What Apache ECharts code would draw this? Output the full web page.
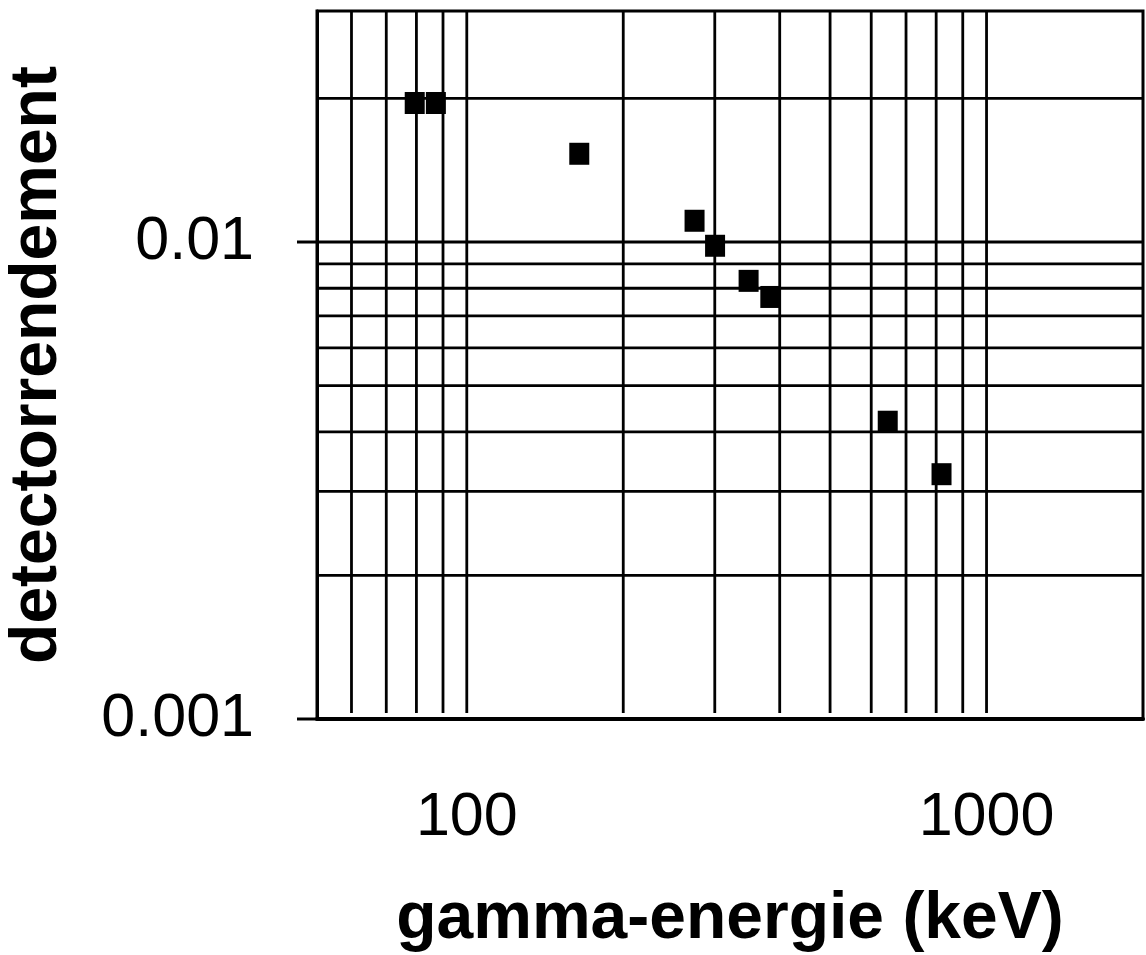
<!DOCTYPE html>
<html>
<head>
<meta charset="utf-8">
<script src="https://cdn.jsdelivr.net/npm/echarts@6/dist/echarts.min.js"></script>
<style>
  html, body { margin: 0; padding: 0; background: #fff; }
  #chart { width: 1146px; height: 955px; }
</style>
</head>
<body>
<div id="chart"></div>
<script>
// ---- data ----
const energies = [79.4, 87.2, 164.6, 274.3, 300.4, 348.5, 383.7, 645.5, 819.2];
const efficiencies = [0.01956, 0.01956, 0.01531, 0.01108, 0.00982, 0.00829, 0.00767, 0.0042, 0.00326];
const xTickLabels = [100, 1000];
const yTickLabels = ['0.001', '0.01'];
const xGridValues = [60, 70, 80, 90, 100, 200, 300, 400, 500, 600, 700, 800, 900, 1000];
const yGridValues = [0.002, 0.003, 0.004, 0.005, 0.006, 0.007, 0.008, 0.009, 0.01, 0.02];
const xRange = [51.5, 2000];
const yRange = [0.001, 0.0305];
const xTitle = 'gamma-energie (keV)';
const yTitle = 'detectorrendement';

const FONT = '"Liberation Sans", Arial, sans-serif';
const near = (a, b) => Math.abs(Math.log10(a) - Math.log10(b)) < 1e-6;
const GRID_W = 2.8;

const chart = echarts.init(document.getElementById('chart'), null, { renderer: 'canvas' });
chart.setOption({
  animation: false,
  backgroundColor: '#fff',
  grid: {
    left: 317, right: 3, top: 11, bottom: 236,
    containLabel: false, outerBoundsMode: 'none',
    show: true, borderColor: '#000', borderWidth: 3, backgroundColor: 'transparent'
  },
  xAxis: {
    type: 'log', logBase: 10, min: xRange[0], max: xRange[1],
    name: xTitle, nameLocation: 'middle', nameGap: 168,
    nameTextStyle: { fontFamily: FONT, fontSize: 66, fontWeight: 'bold', color: '#000' },
    axisLine: { show: true, lineStyle: { color: '#000', width: 4 } },
    axisTick: { show: false },
    splitLine: { show: false },
    axisLabel: {
      margin: 69, fontFamily: FONT, fontSize: 61, color: '#000',
      formatter: v => { const m = xTickLabels.find(t => near(t, v)); return m ? String(m) : ''; }
    }
  },
  yAxis: {
    type: 'log', logBase: 10, min: yRange[0], max: yRange[1],
    name: yTitle, nameLocation: 'middle', nameGap: 246, nameRotate: 90,
    nameTextStyle: { fontFamily: FONT, fontSize: 66, fontWeight: 'bold', color: '#000' },
    axisLine: { show: true, lineStyle: { color: '#000', width: 3 } },
    axisTick: { show: false },
    splitLine: { show: false },
    axisLabel: {
      margin: 63, fontFamily: FONT, fontSize: 61, color: '#000', showMinLabel: true,
      formatter: v => { const m = yTickLabels.find(t => near(parseFloat(t), v)); return m || ''; }
    }
  },
  series: [
    {
      // vertical grid lines
      type: 'custom', clip: false, silent: true, z: 3,
      data: xGridValues.map(v => [v, yRange[0]]),
      renderItem: (params, api) => {
        const cs = params.coordSys;
        const p = api.coord([api.value(0), api.value(1)]);
        return {
          type: 'line',
          shape: { x1: p[0], y1: cs.y, x2: p[0], y2: cs.y + cs.height - 6 },
          style: { stroke: '#000', lineWidth: GRID_W }
        };
      }
    },
    {
      // horizontal grid lines
      type: 'custom', clip: false, silent: true, z: 3,
      data: yGridValues.map(v => [xRange[0], v]),
      renderItem: (params, api) => {
        const cs = params.coordSys;
        const p = api.coord([api.value(0), api.value(1)]);
        return {
          type: 'line',
          shape: { x1: cs.x, y1: p[1], x2: cs.x + cs.width, y2: p[1] },
          style: { stroke: '#000', lineWidth: GRID_W }
        };
      }
    },
    {
      // outward y-axis ticks at the labelled decades
      type: 'custom', clip: false, silent: true, z: 4,
      data: yTickLabels.map(t => [xRange[0], parseFloat(t)]),
      renderItem: (params, api) => {
        const p = api.coord([api.value(0), api.value(1)]);
        return {
          type: 'line',
          shape: { x1: p[0] - 20, y1: p[1], x2: p[0], y2: p[1] },
          style: { stroke: '#000', lineWidth: 3 }
        };
      }
    },
    {
      type: 'scatter',
      data: energies.map((e, i) => [e, efficiencies[i]]),
      symbol: 'rect',
      symbolSize: [20, 22],
      itemStyle: { color: '#000', opacity: 1 },
      z: 10
    }
  ]
});
</script>
</body>
</html>
